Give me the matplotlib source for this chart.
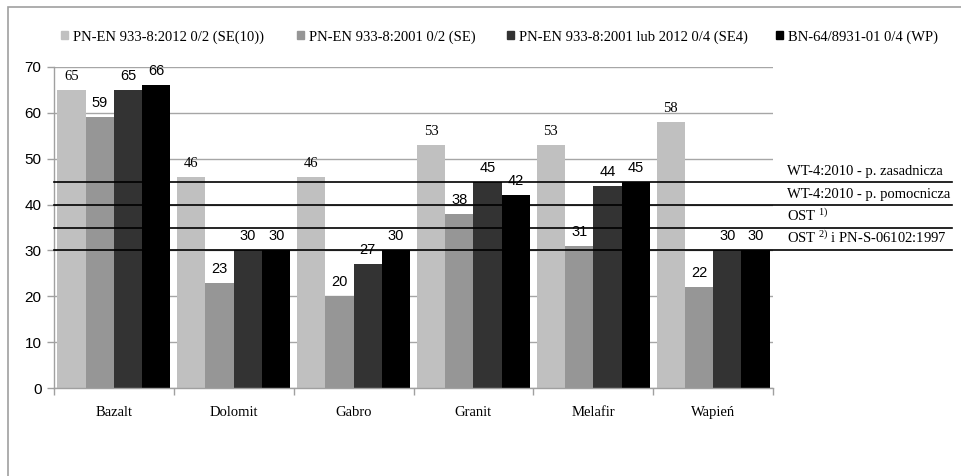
import matplotlib
matplotlib.use("Agg")
import matplotlib.pyplot as plt
from matplotlib.patches import Patch, Rectangle
import numpy as np

plt.rcParams['mathtext.fontset'] = 'custom'
plt.rcParams['mathtext.rm'] = 'Liberation Serif'
plt.rcParams['mathtext.it'] = 'Liberation Serif:italic'

categories = ["Bazalt", "Dolomit", "Gabro", "Granit", "Melafir", "Wapień"]
series_names = [
    "PN-EN 933-8:2012 0/2 (SE(10))",
    "PN-EN 933-8:2001 0/2 (SE)",
    "PN-EN 933-8:2001 lub 2012 0/4 (SE4)",
    "BN-64/8931-01 0/4 (WP)",
]
se10_2012 = [65, 46, 46, 53, 53, 58]
se_2001 = [59, 23, 20, 38, 31, 22]
se4 = [65, 30, 27, 45, 44, 30]
wp = [66, 30, 30, 42, 45, 30]
series_values = [se10_2012, se_2001, se4, wp]
colors = ["#c0c0c0", "#969696", "#333333", "#000000"]
label_fonts = ["Liberation Serif", "Liberation Sans", "Liberation Sans", "Liberation Sans"]

ref_values = [45, 40, 35, 30]
ref_labels = [
    "WT-4:2010 - p. zasadnicza",
    "WT-4:2010 - p. pomocnicza",
    "OST $^{1)}$",
    "OST $^{2)}$ i PN-S-06102:1997",
]

W, H = 961, 476
fig = plt.figure(figsize=(W / 100, H / 100), dpi=100)
ax = fig.add_axes([54 / W, 1 - 388 / H, (773 - 54) / W, (388 - 67) / H])

# outer frame (top and left visible)
fig.patches.append(Rectangle((8 / W, -0.5), 1.5, 1.5 - 7 / H,
                             transform=fig.transFigure, fill=False,
                             edgecolor="#a0a0a0", linewidth=1.2))

x = np.arange(len(categories))
bw = 0.236
for i, (vals, col, fnt) in enumerate(zip(series_values, colors, label_fonts)):
    bars = ax.bar(x + (i - 1.5) * bw, vals, width=bw, color=col, zorder=2,
                  label=series_names[i])
    ax.bar_label(bars, labels=[str(v) for v in vals], padding=5,
                 fontsize=10.5, family=fnt, color="black", zorder=5)

ax.set_xlim(-0.5, len(categories) - 0.5)
ax.set_ylim(0, 70)
ax.set_yticks(np.arange(0, 71, 10))
ax.yaxis.grid(True, color="#a6a6a6", linewidth=1.0)
ax.set_axisbelow(True)

ax.set_xticks(np.arange(-0.5, len(categories), 1.0))
ax.set_xticklabels([])
ax.set_xticks(x, minor=True)
ax.set_xticklabels(categories, minor=True, family="Liberation Serif", fontsize=10.5)
ax.tick_params(axis="x", which="minor", length=0, pad=13)
ax.tick_params(axis="x", which="major", length=5, color="#a0a0a0", width=1)
ax.tick_params(axis="y", length=5, color="#a0a0a0", width=1, pad=4, labelsize=11)
for lab in ax.get_yticklabels():
    lab.set_family("Liberation Sans")

for s in ["top", "right"]:
    ax.spines[s].set_visible(False)
for s in ["left", "bottom"]:
    ax.spines[s].set_color("#a0a0a0")
    ax.spines[s].set_linewidth(1.0)

# reference lines extending to the right of the plot
x_end = (952 - 54) / (773 - 54)
x_lab = (787 - 54) / (773 - 54)
for v, lab in zip(ref_values, ref_labels):
    ax.plot([0, x_end], [v, v], transform=ax.get_yaxis_transform(),
            color="black", linewidth=1.2, zorder=4, clip_on=False)
    ax.annotate(lab, xy=(x_lab, v), xycoords=ax.get_yaxis_transform(),
                xytext=(0, 5), textcoords="offset points", va="baseline",
                ha="left", family="Liberation Serif", fontsize=10.5,
                annotation_clip=False)

# legend entries at their positions
leg_x = [61, 297, 507, 776]
for xp, col, name in zip(leg_x, colors, series_names):
    fig.legend(handles=[Patch(facecolor=col, edgecolor=col)], labels=[name],
               loc="center left", bbox_to_anchor=(xp / W, 1 - 37 / H),
               frameon=False, handlelength=0.45, handleheight=0.45,
               handletextpad=0.35, borderpad=0, borderaxespad=0,
               prop={"family": "Liberation Serif", "size": 10.5})

fig.savefig("out.png", dpi=100)
